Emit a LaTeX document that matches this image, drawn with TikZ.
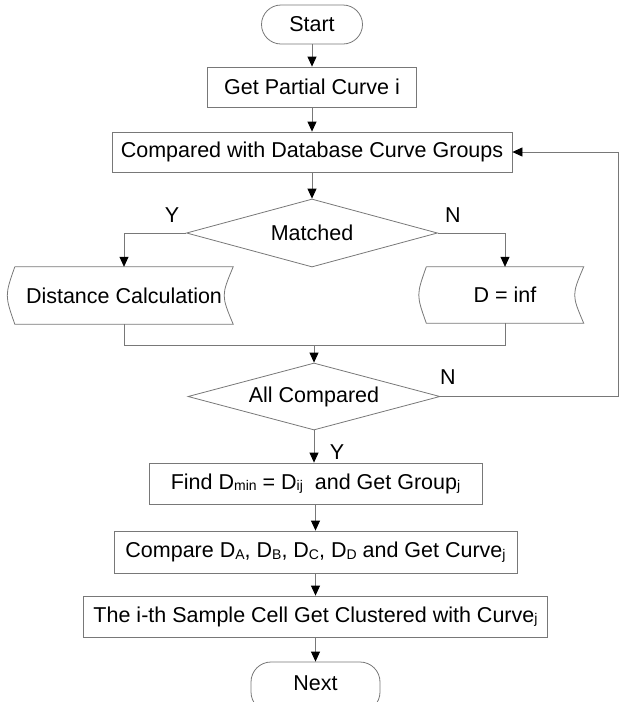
\documentclass[tikz,border=0pt]{standalone}
\usepackage{fontspec}
\setmainfont{Liberation Sans}
\usetikzlibrary{arrows.meta,shapes.geometric}

% small lowered index text (D_min, Curve_j, ...)
\newcommand{\lowsub}[1]{\raisebox{-1.5pt}{\fontsize{14}{14}\selectfont #1}}

\definecolor{linegray}{RGB}{120,120,120}

\begin{document}
\begin{tikzpicture}[x=1pt,y=-1pt,
  every node/.style={font=\fontsize{21.5}{25}\selectfont, text=black},
  box/.style={draw=linegray, line width=0.8pt, inner sep=0pt, rectangle},
  term/.style={box, rounded corners=19.5pt},
  decision/.style={diamond, draw=linegray, line width=0.8pt, inner sep=0pt, aspect=3.7},
  storebox/.style={inner sep=0pt},
  link/.style={draw=linegray, line width=0.8pt},
  flow/.style={link, -{Triangle[width=9pt,length=10pt,color=black]}},
  lbl/.style={inner sep=0pt}
]
\useasboundingbox (0,0) rectangle (621,702);

% main column
\node[term, minimum width=101pt, minimum height=39pt] (start) at (312,24.5) {Start};
\node[box, minimum width=209pt, minimum height=40pt] (get) at (312,87) {Get Partial Curve i};
\node[box, minimum width=400pt, minimum height=40pt] (cmp) at (312,152) {Compared with Database Curve Groups};
\node[decision, minimum width=251pt, minimum height=68pt] (match) at (312,233) {Matched};

% the two stored-data boxes
\node[storebox, minimum width=218pt, minimum height=57pt] (dist) at (124,295.5) {Distance Calculation};
\node[storebox, minimum width=157pt, minimum height=56pt] (inf) at (505,295) {D = inf};
\draw[link] (dist.north west) -- (dist.north east)
  .. controls ([xshift=-12pt]dist.east) .. (dist.south east)
  -- (dist.south west)
  .. controls ([xshift=-10pt]dist.west) .. (dist.north west);
\draw[link] (inf.north west) -- (inf.north east)
  .. controls ([xshift=-12pt]inf.east) .. (inf.south east)
  -- (inf.south west)
  .. controls ([xshift=-10pt]inf.west) .. (inf.north west);

\coordinate (merge) at (314,345);
\node[decision, minimum width=252pt, minimum height=67pt] (all) at (314,396.5) {All Compared};

\node[box, minimum width=333pt, minimum height=41pt] (find) at (315.5,483.5)
  {Find D\lowsub{min} = D\lowsub{ij}\ \ and Get Group\lowsub{j}};
\node[box, minimum width=403pt, minimum height=42pt] (comp) at (315.5,552)
  {Compare D\lowsub{A}, D\lowsub{B}, D\lowsub{C}, D\lowsub{D} and Get Curve\lowsub{j}};
\node[box, minimum width=464pt, minimum height=41pt] (clus) at (315.5,616.5)
  {The i-th Sample Cell Get Clustered with Curve\lowsub{j}};
% terminal at the foot, running past the lower edge of the page
\node[term, rounded corners=20pt, minimum width=129pt, minimum height=50pt,
      text depth=0pt] (next) at (315.5,687) {};
\node (nexttxt) at (315.5,683) {Next};

% branch labels
\node[lbl] (ym) at (172,215) {Y};
\node[lbl] (nm) at (453,215) {N};
\node[lbl] (na) at (448,377) {N};
\node[lbl] (ya) at (337,452) {Y};

% connectors
\draw[flow] (start) -- (get);
\draw[flow] (get) -- (cmp);
\draw[flow] (cmp) -- (match);
\draw[flow] (match.west) -| (dist.north);
\draw[flow] (match.east) -| (inf.north);
\draw[link] (dist.south) |- (merge);
\draw[link] (inf.south) |- (merge);
\draw[flow] (merge) -- (all.north);
\draw[flow] (all.east) -- ++(178,0) |- (cmp.east);
\draw[flow] (all.south) -- (all.south |- find.north);
\draw[flow] (find) -- (comp);
\draw[flow] (comp) -- (clus);
\draw[flow] (clus) -- (next);
\end{tikzpicture}
\end{document}
